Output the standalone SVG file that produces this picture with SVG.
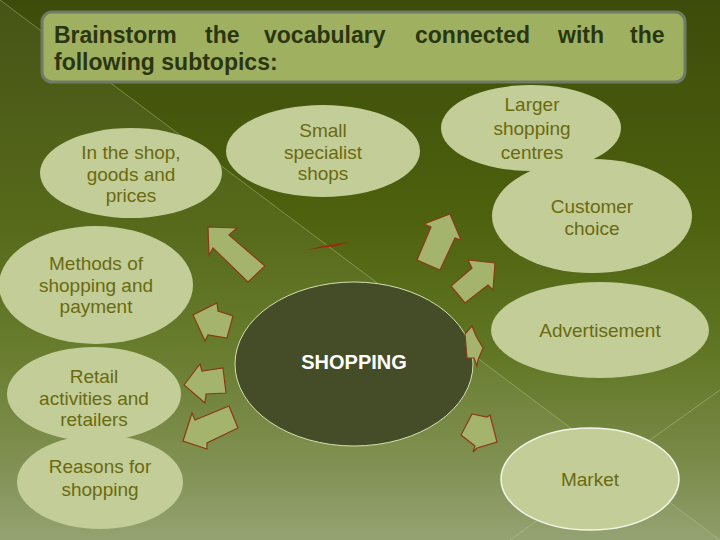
<svg xmlns="http://www.w3.org/2000/svg" width="720" height="540" viewBox="0 0 720 540">
<defs>
<linearGradient id="bg" x1="0" y1="0" x2="0" y2="1">
<stop offset="0" stop-color="#3d4c0a"/>
<stop offset="0.4" stop-color="#4d610e"/>
<stop offset="0.65" stop-color="#617624"/>
<stop offset="0.85" stop-color="#798a48"/>
<stop offset="1" stop-color="#8f9e6b"/>
</linearGradient>
<style>
.bub{fill:#c3cd97}
.lbl{font-family:"Liberation Sans",Arial,sans-serif;font-size:19px;fill:#6a6a10;text-anchor:middle}
.ttl{font-family:"Liberation Sans",Arial,sans-serif;font-size:23px;font-weight:bold;fill:#2a3610}
.arr{fill:#a5b46c;stroke:#8a3a14;stroke-width:1.2;stroke-linejoin:miter}
.deco{stroke:#c4d49a;stroke-opacity:0.4;stroke-width:1;fill:none}
</style>
</defs>
<g id="background">
<rect width="720" height="540" fill="url(#bg)"/>
<polygon points="0,0 720,540 0,540" fill="#ffffff" opacity="0.05"/>
<line class="deco" x1="0" y1="0" x2="720" y2="540"/>
<line class="deco" x1="720" y1="390" x2="510" y2="540"/>
</g>
<g id="title">
<rect x="42" y="12" width="643" height="70" rx="10" fill="#9fb061" stroke="#6f7b64" stroke-width="3"/>
<text class="ttl" y="43"><tspan x="54">Brainstorm</tspan><tspan x="205">the</tspan><tspan x="264">vocabulary</tspan><tspan x="415">connected</tspan><tspan x="558">with</tspan><tspan x="630">the</tspan></text>
<text class="ttl" x="54" y="70">following subtopics:</text>
</g>
<g id="node-shop">
<ellipse class="bub" cx="131" cy="173" rx="91" ry="45"/>
<text class="lbl"><tspan x="131" y="159">In the shop,</tspan><tspan x="131" y="181">goods and</tspan><tspan x="131" y="202">prices</tspan></text>
</g>
<g id="node-small">
<ellipse class="bub" cx="323" cy="151" rx="97" ry="46"/>
<text class="lbl"><tspan x="323" y="137">Small</tspan><tspan x="323" y="159">specialist</tspan><tspan x="323" y="180">shops</tspan></text>
</g>
<g id="node-larger">
<ellipse class="bub" cx="531" cy="128" rx="90" ry="43"/>
<text class="lbl"><tspan x="532" y="111">Larger</tspan><tspan x="532" y="135">shopping</tspan><tspan x="532" y="159">centres</tspan></text>
</g>
<g id="node-customer">
<ellipse class="bub" cx="592" cy="216" rx="100" ry="57"/>
<text class="lbl"><tspan x="592" y="213">Customer</tspan><tspan x="592" y="235">choice</tspan></text>
</g>
<g id="node-methods">
<ellipse class="bub" cx="96" cy="285" rx="97" ry="59"/>
<text class="lbl"><tspan x="96" y="270">Methods of</tspan><tspan x="96" y="292">shopping and</tspan><tspan x="96" y="313">payment</tspan></text>
</g>
<g id="node-advert">
<ellipse class="bub" cx="600" cy="330" rx="109" ry="48"/>
<text class="lbl" x="600" y="337">Advertisement</text>
</g>
<g id="node-retail">
<ellipse class="bub" cx="94" cy="394" rx="87" ry="47"/>
<text class="lbl"><tspan x="94" y="383">Retail</tspan><tspan x="94" y="405">activities and</tspan><tspan x="94" y="426">retailers</tspan></text>
</g>
<g id="node-reasons">
<ellipse class="bub" cx="100" cy="482" rx="83" ry="47"/>
<text class="lbl"><tspan x="100" y="473">Reasons for</tspan><tspan x="100" y="496">shopping</tspan></text>
</g>
<g id="node-market">
<ellipse class="bub" cx="590" cy="479" rx="89" ry="51" stroke="#f2f5e6" stroke-width="1.5"/>
<text class="lbl" x="590" y="486">Market</text>
</g>
<g id="node-shopping">
<ellipse cx="354" cy="364" rx="119" ry="82" fill="#454d28" stroke="#d6dfb0" stroke-width="1"/>
<text x="354" y="369" font-family="'Liberation Sans',Arial,sans-serif" font-size="20" font-weight="bold" fill="#ffffff" text-anchor="middle">SHOPPING</text>
</g>
<g id="connectors">
<polygon class="arr" points="208,227 237,228 229,235 265,266 248,282 213,248 209,255"/>
<polygon points="308,250 322,246 349,242 337,246 320,248" fill="#9a2a10"/>
<polygon class="arr" points="450,214 461,240 455,238 440,270 417,260 431,227 424,224"/>
<polygon class="arr" points="495,263 468,260 472,268 451,286 465,303 488,285 493,290"/>
<polygon class="arr" points="465,334 472,326 476,336 483,348 478,360 477,366 474,358 467,358"/>
<polygon class="arr" points="472,414 487,417 490,415 497,442 477,448 473,452 475,446 461,435"/>
<polygon class="arr" points="193,315 217,303 218,311 233,316 227,338 208,335 205,341"/>
<polygon class="arr" points="184,385 200,364 202,371 223,368 226,393 206,394 205,403"/>
<polygon class="arr" points="183,441 192,413 195,420 229,406 238,428 207,443 207,449"/>
</g>
</svg>
